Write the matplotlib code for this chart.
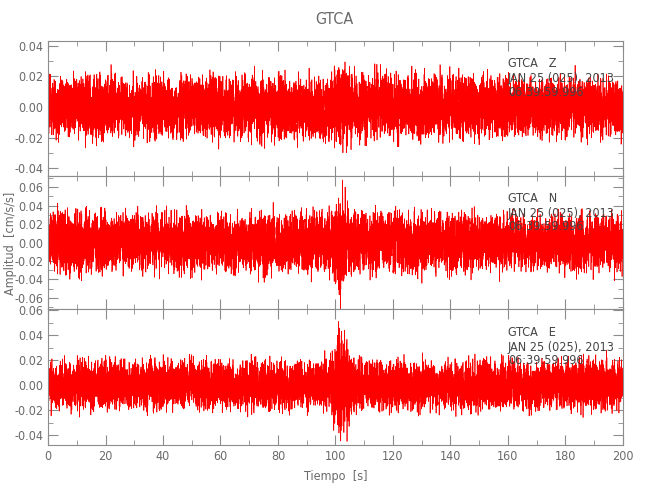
import numpy as np
import matplotlib
matplotlib.use('Agg')
import matplotlib.pyplot as plt
from matplotlib.ticker import MultipleLocator, FormatStrFormatter

plt.rcParams['font.family'] = ['DejaVu Sans']
plt.rcParams['font.stretch'] = 'condensed'

station = 'GTCA'
components = ['Z', 'N', 'E']
date_label = 'JAN 25 (025), 2013'
time_label = '06:39:59.996'

# muestreo y envolventes (desv. estandar cada 10 s)
fs = 100.0
duration = 200.0
env_knots = np.arange(0, 201, 10)
env_z = [0.0090, 0.0100, 0.0100, 0.0096, 0.0094, 0.0096, 0.0096, 0.0100, 0.0100, 0.0100,
         0.0108, 0.0104, 0.0100, 0.0104, 0.0104, 0.0096, 0.0094, 0.0092, 0.0094, 0.0092, 0.0092]
env_n = [0.0160, 0.0165, 0.0160, 0.0155, 0.0160, 0.0160, 0.0160, 0.0160, 0.0160, 0.0160,
         0.0168, 0.0162, 0.0160, 0.0160, 0.0160, 0.0155, 0.0155, 0.0155, 0.0155, 0.0155, 0.0155]
env_e = [0.0100, 0.0096, 0.0096, 0.0094, 0.0094, 0.0094, 0.0096, 0.0096, 0.0096, 0.0096,
         0.0100, 0.0096, 0.0096, 0.0096, 0.0096, 0.0100, 0.0100, 0.0100, 0.0100, 0.0096, 0.0096]
envelopes = [env_z, env_n, env_e]

# evento cerca de 102 s: tiempo, duracion, amplitud extra
event_time = 102.0
event_width = [2.0, 1.3, 2.0]
event_amp = [0.003, 0.011, 0.013]

ylims = [(-0.045, 0.043), (-0.072, 0.072), (-0.048, 0.061)]
yticks = [[-0.04, -0.02, 0.0, 0.02, 0.04],
          [-0.06, -0.04, -0.02, 0.0, 0.02, 0.04, 0.06],
          [-0.04, -0.02, 0.0, 0.02, 0.04, 0.06]]

t = np.arange(0, duration, 1.0 / fs)
rng = np.random.default_rng(25)
kernel = np.array([0.2, 0.5, 0.7, 0.5, 0.2])

gray = '#8c8c8c'
txt = '#6a6a6a'

fig = plt.figure(figsize=(6.5, 5), dpi=100)
tops = [0.918, 0.648, 0.382]
bottoms = [0.648, 0.382, 0.110]
axes = []
for i in range(3):
    ax = fig.add_axes([0.074, bottoms[i], 0.884, tops[i] - bottoms[i]])
    axes.append(ax)

    sigma = np.interp(t, env_knots, envelopes[i])
    sigma = sigma + event_amp[i] * np.exp(-0.5 * ((t - event_time) / event_width[i]) ** 2)
    w = rng.standard_normal(t.size)
    w = np.convolve(w, kernel, mode='same') / np.sqrt((kernel ** 2).sum())
    w = 3.5 * np.tanh(w / 3.5)
    trace = sigma * w

    ax.plot(t, trace, color='red', lw=0.5)

    ax.set_xlim(0, 200)
    ax.set_ylim(*ylims[i])
    ax.set_yticks(yticks[i])
    ax.yaxis.set_major_formatter(FormatStrFormatter('%.2f'))
    ax.yaxis.set_minor_locator(MultipleLocator(0.01))
    ax.xaxis.set_major_locator(MultipleLocator(20))
    ax.xaxis.set_minor_locator(MultipleLocator(10))
    ax.tick_params(which='both', direction='in', top=True, right=True, colors=gray,
                   labelcolor=txt, labelsize=9)
    ax.tick_params(which='major', length=7)
    ax.tick_params(which='minor', length=3.5)
    for sp in ax.spines.values():
        sp.set_color(gray)
    if i < 2:
        ax.tick_params(labelbottom=False)

    ax.text(0.8, 0.83, f'{station}   {components[i]}', transform=ax.transAxes,
            color='#444444', fontsize=9, va='center')
    ax.text(0.8, 0.72, date_label, transform=ax.transAxes,
            color='#444444', fontsize=9, va='center')
    ax.text(0.8, 0.62, time_label, transform=ax.transAxes,
            color='#444444', fontsize=9, va='center')

axes[2].set_xlabel('Tiempo  [s]', color=txt, fontsize=9, labelpad=5)
fig.text(0.515, 0.96, station, ha='center', va='center', color=txt, fontsize=11.5)
fig.text(0.016, 0.514, 'Amplitud  [cm/s/s]', rotation=90, ha='center', va='center',
         color=txt, fontsize=9)

plt.savefig('out.png')
plt.close()
